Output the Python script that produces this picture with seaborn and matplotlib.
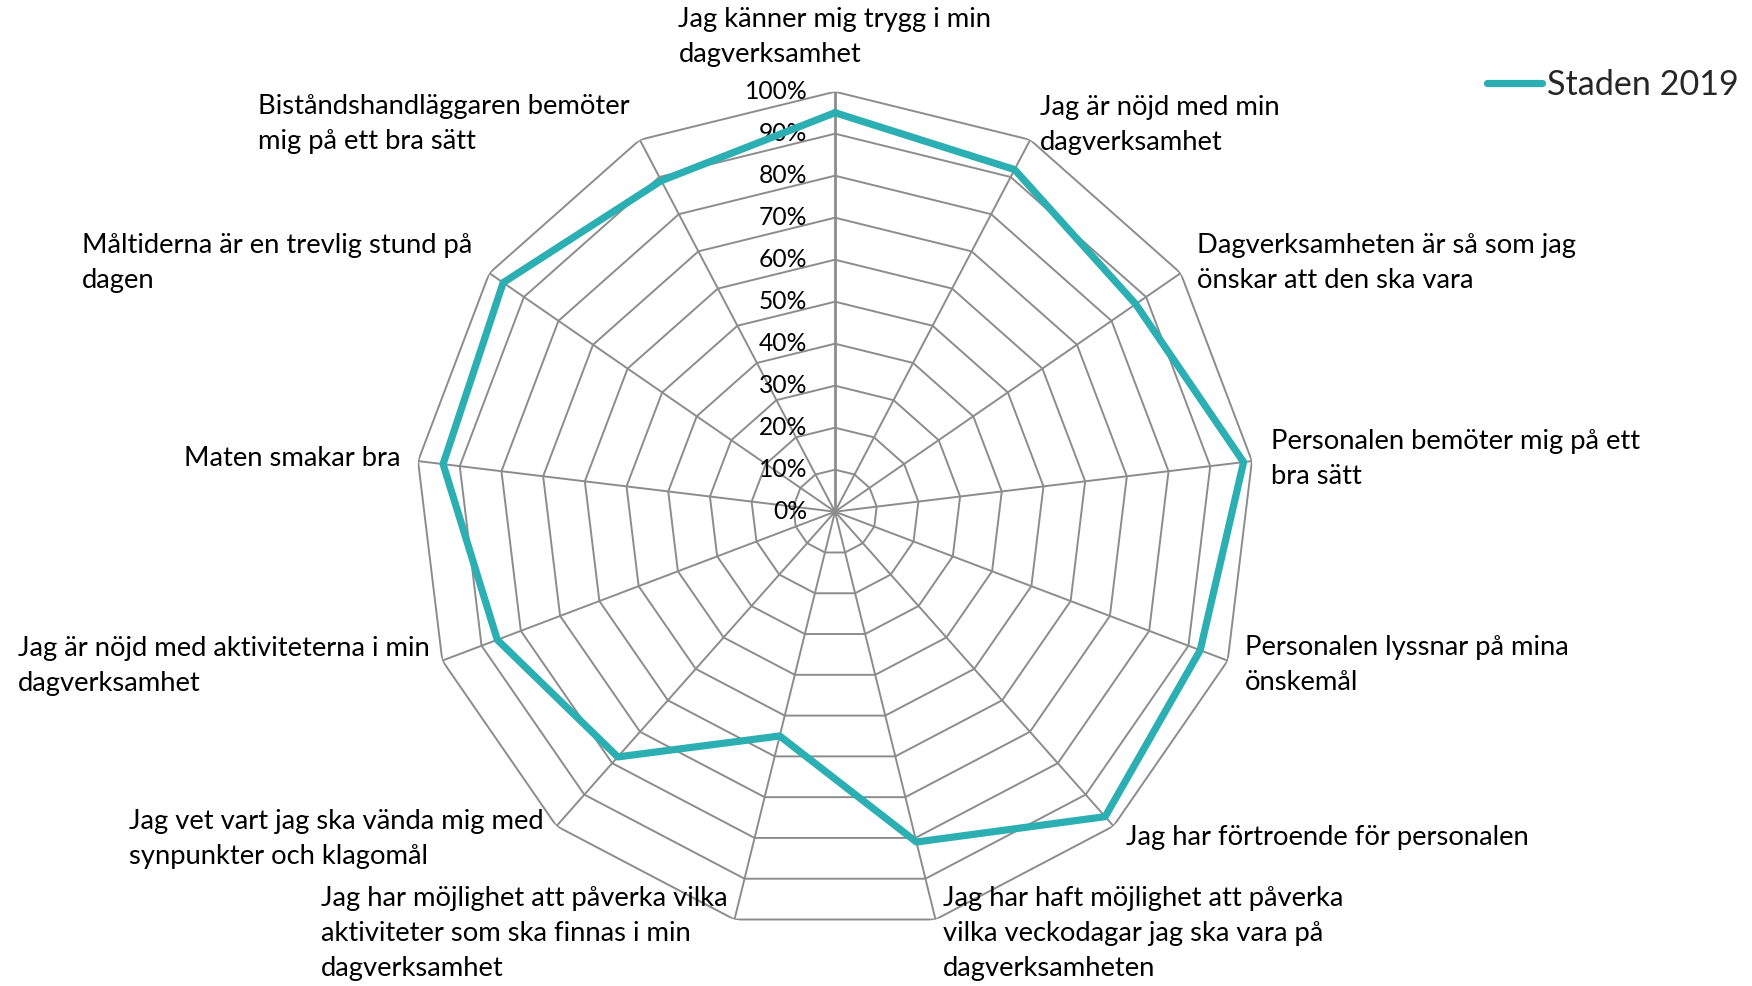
import numpy as np
import seaborn as sns
import matplotlib.pyplot as plt

# survey statements, clockwise from the top
categories = [
    ["Jag känner mig trygg i min", "dagverksamhet"],
    ["Jag är nöjd med min", "dagverksamhet"],
    ["Dagverksamheten är så som jag", "önskar att den ska vara"],
    ["Personalen bemöter mig på ett", "bra sätt"],
    ["Personalen lyssnar på mina", "önskemål"],
    ["Jag har förtroende för personalen"],
    ["Jag har haft möjlighet att påverka", "vilka veckodagar jag ska vara på", "dagverksamheten"],
    ["Jag har möjlighet att påverka vilka", "aktiviteter som ska finnas i min", "dagverksamhet"],
    ["Jag vet vart jag ska vända mig med", "synpunkter och klagomål"],
    ["Jag är nöjd med aktiviteterna i min", "dagverksamhet"],
    ["Maten smakar bra"],
    ["Måltiderna är en trevlig stund på", "dagen"],
    ["Biståndshandläggaren bemöter", "mig på ett bra sätt"],
]
values = [95, 92, 87, 98, 93, 97, 81, 55, 78, 86, 94, 96, 89]
series_name = "Staden 2019"
rings = [0, 10, 20, 30, 40, 50, 60, 70, 80, 90, 100]
ring_labels = ["0%", "10%", "20%", "30%", "40%", "50%", "60%", "70%", "80%", "90%", "100%"]

# label placement in pixels: anchor x, first baseline y, which side x refers to
label_pos = [
    (835, 27, "center"), (1040, 115, "left"), (1197, 253, "left"),
    (1271, 449, "left"), (1245, 655, "left"), (1126, 845, "left"),
    (943, 906, "left"), (728, 906, "right"), (544, 829, "right"),
    (430, 656, "right"), (400, 466, "right"), (472, 253, "right"),
    (630, 114, "right"),
]

teal = "#2BAFB2"
grid_col = "#8C8C8C"
fs = 19.7
tick_fs = 17.7
line_step = 34.8

sns.set_theme(style="white")
plt.rcParams["font.family"] = ["Lato", "DejaVu Sans"]

W, H = 1752, 986
fig = plt.figure(figsize=(W / 100, H / 100), dpi=100)
cx, cy, R = 835, 511.7, 420
ax = fig.add_axes([(cx - R) / W, (H - cy - R) / H, 2 * R / W, 2 * R / H], projection="polar")
ax.set_theta_offset(np.pi / 2)
ax.set_theta_direction(-1)
ax.set_ylim(0, 100)
ax.grid(False)
ax.spines["polar"].set_visible(False)
ax.set_xticks([])
ax.set_yticks([])
ax.patch.set_alpha(0)

n = len(values)
theta = np.arange(n) * 2 * np.pi / n
theta_closed = np.append(theta, 2 * np.pi)

# polygon rings and spokes
for r in rings[1:]:
    ax.plot(theta_closed, [r] * (n + 1), color=grid_col, lw=1.4, zorder=1)
for i, t in enumerate(theta):
    ax.plot([t, t], [0, 100], color=grid_col, lw=2.0 if i == 0 else 1.4, zorder=1)

for r, lab in zip(rings, ring_labels):
    ax.annotate(lab, xy=(0, r), xytext=(-20, 0), textcoords="offset points",
                ha="right", va="center", fontsize=tick_fs, color="black")

sns.lineplot(x=theta_closed, y=values + values[:1], sort=False, estimator=None,
             ax=ax, color=teal, lw=5.2, label=series_name, zorder=3)
for ln in ax.get_lines()[-1:]:
    ln.set_solid_capstyle("round")

leg = ax.legend(loc="center left", bbox_to_anchor=(1487 / W, 1 - 85 / H),
                bbox_transform=fig.transFigure, frameon=False, fontsize=24.6,
                handlelength=1.6, handletextpad=0.15, borderpad=0, borderaxespad=0)
for h in leg.get_lines():
    h.set_linewidth(5.2)
    h.set_solid_capstyle("round")

renderer = fig.canvas.get_renderer()
for lines, (x, y, side) in zip(categories, label_pos):
    texts = [fig.text(0, 0, s, fontsize=fs, va="baseline", ha="left", color="black") for s in lines]
    wmax = max(t.get_window_extent(renderer).width for t in texts)
    left = x if side == "left" else (x - wmax if side == "right" else x - wmax / 2)
    for i, t in enumerate(texts):
        t.set_position((left / W, 1 - (y + i * line_step) / H))

fig.savefig("out.png", dpi=100)
